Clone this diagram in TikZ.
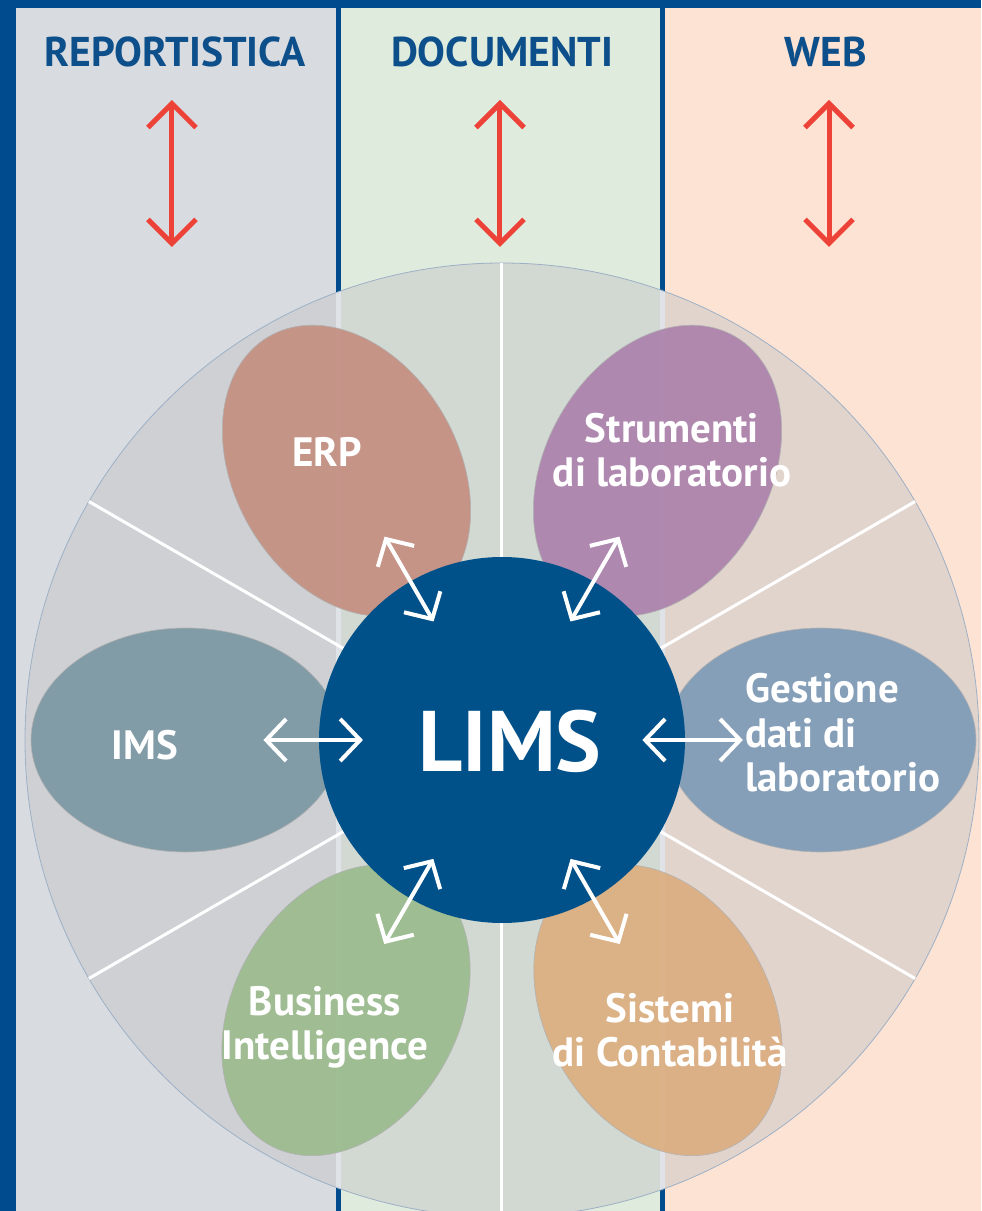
\documentclass[tikz,border=0pt]{standalone}
\usepackage{fontspec}
\setmainfont{PT Sans}
\usepackage{tikz}
\usetikzlibrary{shapes.geometric, arrows.meta, calc}

\definecolor{limsblue}{RGB}{0,81,138}
\definecolor{frameblue}{RGB}{0,75,141}
\definecolor{headblue}{RGB}{13,79,138}
\definecolor{repbg}{RGB}{216,220,225}
\definecolor{docbg}{RGB}{223,235,221}
\definecolor{webbg}{RGB}{253,227,211}
\definecolor{ringgray}{RGB}{198,198,200}
\definecolor{ringline}{RGB}{157,176,198}
\definecolor{stripe}{RGB}{223,227,231}
\definecolor{arrowred}{RGB}{237,66,56}
\definecolor{erpcol}{RGB}{196,143,129}
\definecolor{labcol}{RGB}{172,130,172}
\definecolor{imscol}{RGB}{123,152,163}
\definecolor{daticol}{RGB}{127,155,184}
\definecolor{bicol}{RGB}{155,187,142}
\definecolor{contcol}{RGB}{220,174,128}

\tikzset{
  header/.style={text=headblue, inner sep=0pt, font=\fontsize{20.8}{24}\selectfont\bfseries},
  petal/.style={ellipse, draw=black!30, line width=0.3pt, fill opacity=0.92,
    minimum width=155pt, minimum height=112pt, inner sep=0pt},
  petaltext/.style={text=white, align=center, inner sep=0pt,
    font=\fontsize{20.5}{22.2}\selectfont\bfseries},
  linkarrow/.style={white, line width=2pt,
    {Straight Barb[length=10pt,width=21pt]}-{Straight Barb[length=10pt,width=21pt]}},
  colarrow/.style={arrowred, line width=2.5pt,
    {Straight Barb[length=12pt,width=24pt]}-{Straight Barb[length=12pt,width=24pt]}},
}

\begin{document}
\begin{tikzpicture}[x=0.5pt, y=0.5pt]
  \useasboundingbox (-502,-471) rectangle (479,740);

  % Frame and columns
  \fill[frameblue] (-502,-471) rectangle (479,740);
  \fill[repbg] (-486,-471) rectangle (-163.5,732);
  \fill[docbg] (-163.5,-471) rectangle (161,732);
  \fill[webbg] (161,-471) rectangle (479,732);
  \draw[frameblue, line width=2.5pt] (-163.5,-471) -- (-163.5,732);
  \draw[frameblue, line width=2.5pt] (161,-471) -- (161,732);

  % Column headers
  \node[header] (rep) at (-327,688) {REPORTISTICA};
  \node[header] (doc) at (0,688) {DOCUMENTI};
  \node[header] (web) at (324,688) {WEB};

  % Red double arrows under the headers
  \foreach \n/\x in {rep/-330, doc/-2, web/327} {
    \coordinate (\n-up) at (\x,640);
    \coordinate (\n-dn) at (\x,493);
    \draw[colarrow] (\n-up) -- (\n-dn);
  }

  % Outer ring
  \fill[ringgray, fill opacity=0.5] (0,0) circle[radius=238.5pt];
  \begin{scope}
    \clip (0,0) circle[radius=238.5pt];
    \fill[stripe] (-166,-480) rectangle (-161,480);
    \fill[stripe] (158.5,-480) rectangle (163.5,480);
  \end{scope}
  \draw[ringline, line width=0.4pt] (0,0) circle[radius=238.5pt];

  % White spokes
  \foreach \a in {30,90,...,330}
    \draw[white, line width=1.5pt] (\a:183) -- (\a:477);

  % Petals
  \node[petal, fill=erpcol, rotate=120] (erp) at (120:311) {};
  \node[petal, fill=labcol, rotate=60] (lab) at (60:311) {};
  \node[petal, fill=imscol] (ims) at (180:316) {};
  \node[petal, fill=daticol] (dati) at (0:319) {};
  \node[petal, fill=bicol, rotate=240] (bi) at (240:312) {};
  \node[petal, fill=contcol, rotate=300] (cont) at (300:312) {};

  % LIMS hub
  \node[circle, fill=limsblue, minimum size=183pt, inner sep=0pt] (lims) at (0,0) {};
  \node[text=white, font=\fontsize{43}{46}\selectfont\bfseries] (lims-text) at (8,-1) {LIMS};

  % Petal labels
  \node[petaltext] (erp-text) at (-175,288) {ERP};
  \node[petaltext] (lab-text) at (170,290) {Strumenti\\di laboratorio};
  \node[petaltext] (ims-text) at (-357,-5) {IMS};
  \node[petaltext, align=left, anchor=west] (dati-text) at (243,7) {Gestione\\dati di\\laboratorio};
  \node[petaltext] (bi-text) at (-177,-287) {Business\\Intelligence};
  \node[petaltext] (cont-text) at (168,-290) {Sistemi\\di Contabilità};

  % Links between hub and petals
  \foreach \n in {erp, lab, ims, dati, bi, cont}
    \draw[linkarrow] ($(lims.center)!0.44!(\n.center)$) -- ($(lims.center)!0.755!(\n.center)$);
\end{tikzpicture}
\end{document}
